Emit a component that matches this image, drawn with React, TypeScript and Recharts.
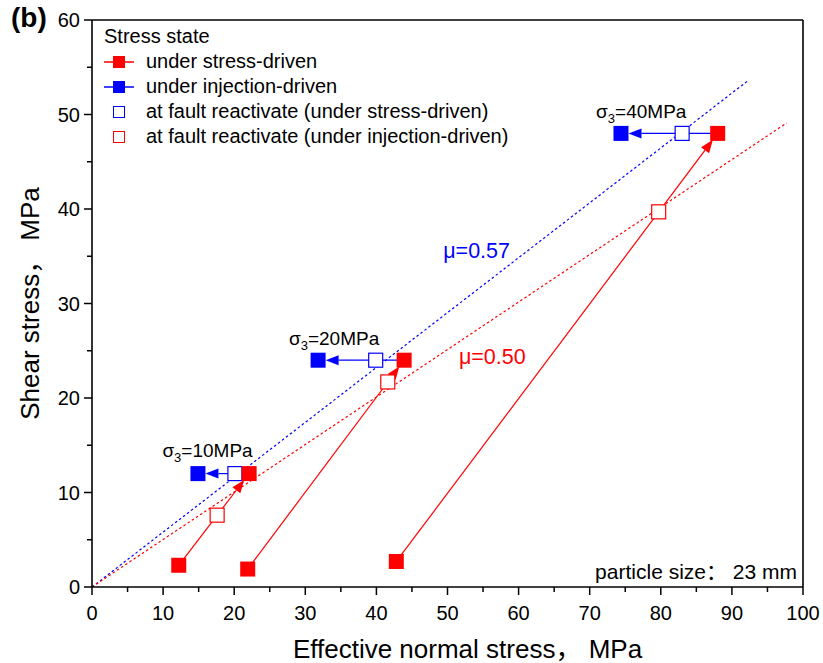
import {
  ComposedChart,
  Scatter,
  XAxis,
  YAxis,
  ReferenceLine,
  ReferenceDot,
  Label,
} from 'recharts'

const FONT = '"Liberation Sans", Arial, Helvetica, "Noto Sans CJK SC", sans-serif'
const RED = '#ff0000'
const BLUE = '#0000ff'

/* ---------------- data (MPa) ---------------- */

// stress-driven loading paths: start -> fault reactivation -> end
const stressStart = [
  { x: 12.2, y: 2.3 },
  { x: 21.9, y: 1.9 },
  { x: 42.8, y: 2.7 },
]
const stressEnd = [
  { x: 22.1, y: 12 },
  { x: 43.9, y: 24 },
  { x: 88, y: 48 },
]
// open red squares (on the mu=0.50 line)
const reactInjection = [
  { x: 17.6, y: 7.6 },
  { x: 41.6, y: 21.7 },
  { x: 79.7, y: 39.7 },
]
// open blue squares (on the mu=0.57 line)
const reactStress = [
  { x: 20.1, y: 12 },
  { x: 39.9, y: 24 },
  { x: 83, y: 48 },
]
// injection-driven end points
const injectionEnd = [
  { x: 14.9, y: 12 },
  { x: 31.8, y: 24 },
  { x: 74.4, y: 48 },
]

const sigma3 = ['10', '20', '40']
const sigmaLabelAt = [
  { x: 9.9, y: 13.8 },
  { x: 27.7, y: 25.6 },
  { x: 70.9, y: 49.6 },
]

const frictionBlue = [{ x: 0, y: 0 }, { x: 92.3, y: 53.6 }]
const frictionRed = [{ x: 0, y: 0 }, { x: 97.7, y: 49.1 }]
const muLabels = ['μ=0.57', 'μ=0.50']
const muLabelAt = [
  { x: 49.4, y: 34.8 },
  { x: 51.6, y: 23.6 },
]

const xTicks = [0, 5, 10, 15, 20, 25, 30, 35, 40, 45, 50, 55, 60, 65, 70, 75, 80, 85, 90, 95, 100]
const yTicks = [0, 5, 10, 15, 20, 25, 30, 35, 40, 45, 50, 55, 60]

const legendItems = [
  { label: 'under stress-driven', color: RED, filled: true },
  { label: 'under injection-driven', color: BLUE, filled: true },
  { label: 'at fault reactivate (under stress-driven)', color: BLUE, filled: false },
  { label: 'at fault reactivate (under injection-driven)', color: RED, filled: false },
]

/* ---------------- shapes ---------------- */

const filledSquare = (color: string) => (p: any) => (
  <rect x={p.cx - 7.5} y={p.cy - 7.5} width={15} height={15} fill={color} />
)
const openSquare = (color: string) => (p: any) => (
  <rect x={p.cx - 7} y={p.cy - 7} width={14} height={14} fill="#fff" stroke={color} strokeWidth={1.2} />
)

function ArrowLine(props: any) {
  const { x1, y1, x2, y2, stroke } = props
  const dx = x2 - x1
  const dy = y2 - y1
  const len = Math.hypot(dx, dy) || 1
  const ux = dx / len
  const uy = dy / len
  const gap = Math.abs(ux) > 0.99 ? 7.5 : 8
  const tx = x2 - ux * gap
  const ty = y2 - uy * gap
  const hl = 13
  const hw = 5
  const bx = tx - ux * hl
  const by = ty - uy * hl
  return (
    <g>
      <line x1={x1} y1={y1} x2={bx} y2={by} stroke={stroke} strokeWidth={1.2} />
      <polygon
        points={`${tx},${ty} ${bx - uy * hw},${by + ux * hw} ${bx + uy * hw},${by - ux * hw}`}
        fill={stroke}
      />
    </g>
  )
}

function XTick(props: any) {
  const { x, y, payload } = props
  const major = payload.value % 10 === 0
  return (
    <g>
      <line x1={x} x2={x} y1={y} y2={y + (major ? 8 : 5)} stroke="#000" strokeWidth={1.5} />
      {major && (
        <text x={x} y={y + 33} textAnchor="middle" fontSize={20} fontFamily={FONT} fill="#000">
          {payload.value}
        </text>
      )}
    </g>
  )
}

function YTick(props: any) {
  const { x, y, payload } = props
  const major = payload.value % 10 === 0
  return (
    <g>
      <line x1={x - (major ? 8 : 5)} x2={x} y1={y} y2={y} stroke="#000" strokeWidth={1.5} />
      {major && (
        <text x={x - 12} y={y + 7} textAnchor="end" fontSize={20} fontFamily={FONT} fill="#000">
          {payload.value}
        </text>
      )}
    </g>
  )
}

const xTitle = (p: any) => {
  const vb = p.viewBox
  return (
    <text x={vb.x + vb.width / 2 + 20} y={vb.y + vb.height + 31} textAnchor="middle" fontSize={26} fontFamily={FONT} fill="#000">
      Effective normal stress，  MPa
    </text>
  )
}

const yTitle = (p: any) => {
  const vb = p.viewBox
  const cx = 39
  const cy = vb.y + vb.height / 2
  return (
    <text x={cx} y={cy} transform={`rotate(-90 ${cx} ${cy})`} textAnchor="middle" fontSize={26} fontFamily={FONT} fill="#000">
      Shear stress，  MPa
    </text>
  )
}

function Legend() {
  return (
    <div style={{ position: 'absolute', left: 104, top: 24, fontFamily: FONT, fontSize: 20, color: '#000', lineHeight: '25px' }}>
      <div>Stress state</div>
      {legendItems.map((it) => (
        <div key={it.label} style={{ display: 'flex', alignItems: 'center', height: 25 }}>
          <svg width={42} height={20} style={{ display: 'block' }}>
            {it.filled && <line x1={0} x2={30} y1={10} y2={10} stroke={it.color} strokeWidth={1.5} />}
            {it.filled ? (
              <rect x={9} y={4} width={12} height={12} fill={it.color} />
            ) : (
              <rect x={9.5} y={4.5} width={11} height={11} fill="#fff" stroke={it.color} strokeWidth={1} />
            )}
          </svg>
          <span>{it.label}</span>
        </div>
      ))}
    </div>
  )
}

export default function App() {
  return (
    <div style={{ position: 'absolute', left: 0, top: 0, width: 823, height: 663, background: '#fff' }}>
      <ComposedChart width={823} height={663} margin={{ top: 20, right: 20, bottom: 36, left: 0 }}>
        <XAxis
          type="number"
          dataKey="x"
          domain={[0, 100]}
          ticks={xTicks}
          interval={0}
          allowDataOverflow
          tickSize={0}
          tickMargin={0}
          tickLine={false}
          tick={XTick}
          axisLine={{ stroke: '#000', strokeWidth: 1.6 }}
          height={40}
          label={<Label content={xTitle} />}
        />
        <YAxis
          type="number"
          dataKey="y"
          domain={[0, 60]}
          ticks={yTicks}
          interval={0}
          allowDataOverflow
          tickSize={0}
          tickMargin={0}
          tickLine={false}
          tick={YTick}
          axisLine={{ stroke: '#000', strokeWidth: 1.6 }}
          width={92}
          label={<Label content={yTitle} />}
        />
        <ReferenceLine y={60} stroke="#000" strokeWidth={1.6} />
        <ReferenceLine x={100} stroke="#000" strokeWidth={1.6} />

        <ReferenceLine segment={frictionBlue} stroke={BLUE} strokeWidth={1.2} strokeDasharray="2.5 2.5" />
        <ReferenceLine segment={frictionRed} stroke={RED} strokeWidth={1.2} strokeDasharray="2.5 2.5" />

        {stressStart.map((s, i) => (
          <ReferenceLine key={'r' + i} segment={[s, stressEnd[i]]} stroke={RED} shape={ArrowLine} />
        ))}
        {stressEnd.map((s, i) => (
          <ReferenceLine key={'b' + i} segment={[s, injectionEnd[i]]} stroke={BLUE} shape={ArrowLine} />
        ))}

        <Scatter data={reactInjection} shape={openSquare(RED)} isAnimationActive={false} />
        <Scatter data={reactStress} shape={openSquare(BLUE)} isAnimationActive={false} />
        <Scatter data={stressStart} shape={filledSquare(RED)} isAnimationActive={false} />
        <Scatter data={stressEnd} shape={filledSquare(RED)} isAnimationActive={false} />
        <Scatter data={injectionEnd} shape={filledSquare(BLUE)} isAnimationActive={false} />

        {sigmaLabelAt.map((p, i) => (
          <ReferenceDot
            key={'s' + i}
            x={p.x}
            y={p.y}
            r={0}
            shape={(d: any) => (
              <text x={d.cx} y={d.cy} fontSize={19} fontFamily={FONT} fill="#000">
                <tspan>σ</tspan>
                <tspan fontSize={13} dy={5}>3</tspan>
                <tspan dy={-5}>={sigma3[i]}MPa</tspan>
              </text>
            )}
          />
        ))}
        {muLabelAt.map((p, i) => (
          <ReferenceDot
            key={'m' + i}
            x={p.x}
            y={p.y}
            r={0}
            shape={(d: any) => (
              <text x={d.cx} y={d.cy} fontSize={21.5} fontFamily={FONT} fill={i === 0 ? BLUE : RED}>
                {muLabels[i]}
              </text>
            )}
          />
        ))}
      </ComposedChart>
      <Legend />
      <div style={{ position: 'absolute', left: 11, top: 2, fontFamily: FONT, fontSize: 28, fontWeight: 'bold', color: '#000' }}>
        (b)
      </div>
      <div style={{ position: 'absolute', right: 26, top: 555, fontFamily: FONT, fontSize: 21, color: '#000', whiteSpace: 'pre' }}>
        particle size： 23 mm
      </div>
    </div>
  )
}
